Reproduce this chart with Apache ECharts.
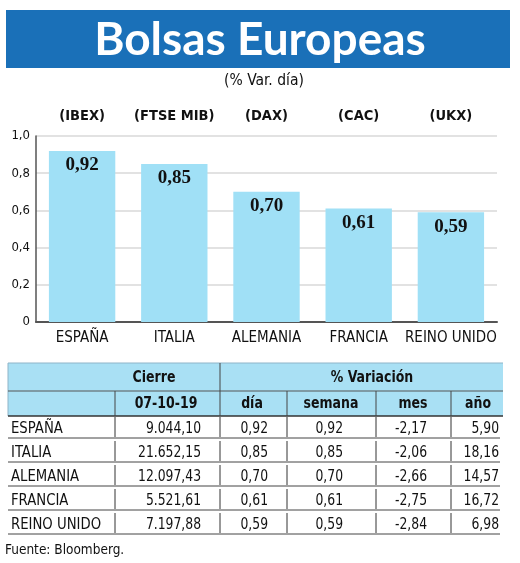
<!DOCTYPE html>
<html><head><meta charset="utf-8">
<script src="https://cdn.jsdelivr.net/npm/echarts@6/dist/echarts.min.js"></script>
<style>html,body{margin:0;padding:0;background:#fff}#c{width:520px;height:563px}</style>
</head><body><div id="c"></div>
<script>
const categories = ['ESPAÑA', 'ITALIA', 'ALEMANIA', 'FRANCIA', 'REINO UNIDO'];
const indices = ['(IBEX)', '(FTSE MIB)', '(DAX)', '(CAC)', '(UKX)'];
const varDia = [0.92, 0.85, 0.70, 0.61, 0.59];
const cierre = ['9.044,10', '21.652,15', '12.097,43', '5.521,61', '7.197,88'];
const varSemana = [0.92, 0.85, 0.70, 0.61, 0.59];
const varMes = [-2.17, -2.06, -2.66, -2.75, -2.84];
const varAnio = [5.90, 18.16, 14.57, 16.72, 6.98];
const yTicks = [0, 0.2, 0.4, 0.6, 0.8, 1.0];
const titleText = 'Bolsas Europeas';
const subtitleText = '(% Var. día)';
const headTop = ['Cierre', '% Variación'];
const headSub = ['07-10-19', 'día', 'semana', 'mes', 'año'];
const sourceText = 'Fuente: Bloomberg.';

const COND = '"DejaVu Sans Condensed","DejaVu Sans",sans-serif';
const TITLEF = 'Lato,"Open Sans",sans-serif';
const fmt = v => v.toFixed(2).replace('.', ',');

const chart = echarts.init(document.getElementById('c'));
const g = [];
const txt = (t, x, y, align, font, sx) => g.push({type:'text', x, y, scaleX:sx||1,
  style:Object.assign({text:t, x:0, y:0, align, verticalAlign:'middle'}, font)});
// header
g.push({type:'rect', shape:{x:6,y:10,width:504,height:58}, style:{fill:'#1a70b8'}});
txt(titleText, 260, 40, 'center', {fill:'#fff', fontSize:46, fontWeight:'bold', fontFamily:TITLEF}, 1.0);
txt(subtitleText, 264, 81, 'center', {fill:'#111', fontSize:15.5, fontFamily:COND});

// table
const L = 8, R = 503;
const rowTop = 363, rowMid = 391, rowHead = 416, rowH = 24;
const colX = [115, 220, 287, 376, 451];
const HEAD_FILL = '#a9e0f4';
const LINE = '#333';
g.push({type:'rect', shape:{x:L,y:rowTop,width:R-L,height:rowHead-rowTop}, style:{fill:HEAD_FILL}});
const hl = (x1,y1,x2,y2,w,c) => g.push({type:'line', shape:{x1,y1,x2,y2}, style:{stroke:c||LINE, lineWidth:w||1}});
hl(L, rowTop, R, rowTop, 1, '#8fb4c8');
hl(L, rowTop, L, rowHead, 1, '#8fb4c8');
hl(L, rowMid, R, rowMid, 1, '#555');
hl(L, rowHead, R, rowHead, 1.5, '#333');
hl(colX[1], rowTop, colX[1], rowHead, 1, '#444');
[0,2,3,4].forEach(i => hl(colX[i], rowMid, colX[i], rowHead, 1, '#444'));
const headFont = {fontSize:16, fontWeight:'bold', fontFamily:COND, fill:'#111'};
txt(headTop[0], 154, 378, 'center', headFont, 0.87);
txt(headTop[1], 372, 378, 'center', headFont, 0.87);
const subCenters = [166, 252, 331, 413, 478];
headSub.forEach((t,i) => txt(t, subCenters[i], 404, 'center', headFont, 0.87));

const rightEdges = [201, 268, 343, 427, 499];
const dataFont = {fontSize:16, fontFamily:COND, fill:'#111'};
categories.forEach((c, r) => {
  const yc = 429 + r * rowH;
  const yl = 438 + r * rowH;
  hl(L, yl, 500, yl, 1, '#444');
  colX.forEach(x => hl(x, yl - 21, x, yl - 1, 1, '#333'));
  txt(c, 11, yc, 'left', dataFont, 0.92);
  const vals = [cierre[r], fmt(varDia[r]), fmt(varSemana[r]), fmt(varMes[r]), fmt(varAnio[r])];
  vals.forEach((v,i) => txt(v, rightEdges[i], yc, 'right', dataFont, 0.86));
});
txt(sourceText, 5, 550, 'left', {fill:'#111', fontSize:13.5, fontFamily:COND});

chart.setOption({
  animation:false,
  grid:{left:36, right:23, top:136, bottom:241},
  xAxis:[
    {type:'category', data:categories, position:'bottom',
     axisLine:{lineStyle:{color:'#555', width:2}}, axisTick:{show:false},
     axisLabel:{color:'#111', fontSize:15, fontFamily:COND, margin:9, interval:0}},
    {type:'category', data:indices, position:'top',
     axisLine:{show:false}, axisTick:{show:false},
     axisLabel:{color:'#111', fontSize:14.5, fontWeight:'bold', fontFamily:COND, margin:12, interval:0}}
  ],
  yAxis:{type:'value', min:yTicks[0], max:yTicks[yTicks.length-1], interval:0.2,
    axisLine:{show:true, lineStyle:{color:'#555', width:1.5}}, axisTick:{show:false},
    splitLine:{lineStyle:{color:'#d9d9d9', width:1.5}},
    axisLabel:{color:'#111', fontSize:13, fontFamily:COND, margin:6,
      formatter: v => v === 0 ? '0' : v.toFixed(1).replace('.', ',')}},
  series:[{type:'bar', data:varDia, barWidth:'72%', xAxisIndex:0,
    itemStyle:{color:'#a0e0f6'},
    label:{show:true, position:'insideTop', distance:5, color:'#111', fontSize:19, fontWeight:'bold',
      fontFamily:'"Liberation Serif","DejaVu Serif",serif', formatter: p => fmt(p.value)}}],
  graphic:g
});
</script></body></html>
